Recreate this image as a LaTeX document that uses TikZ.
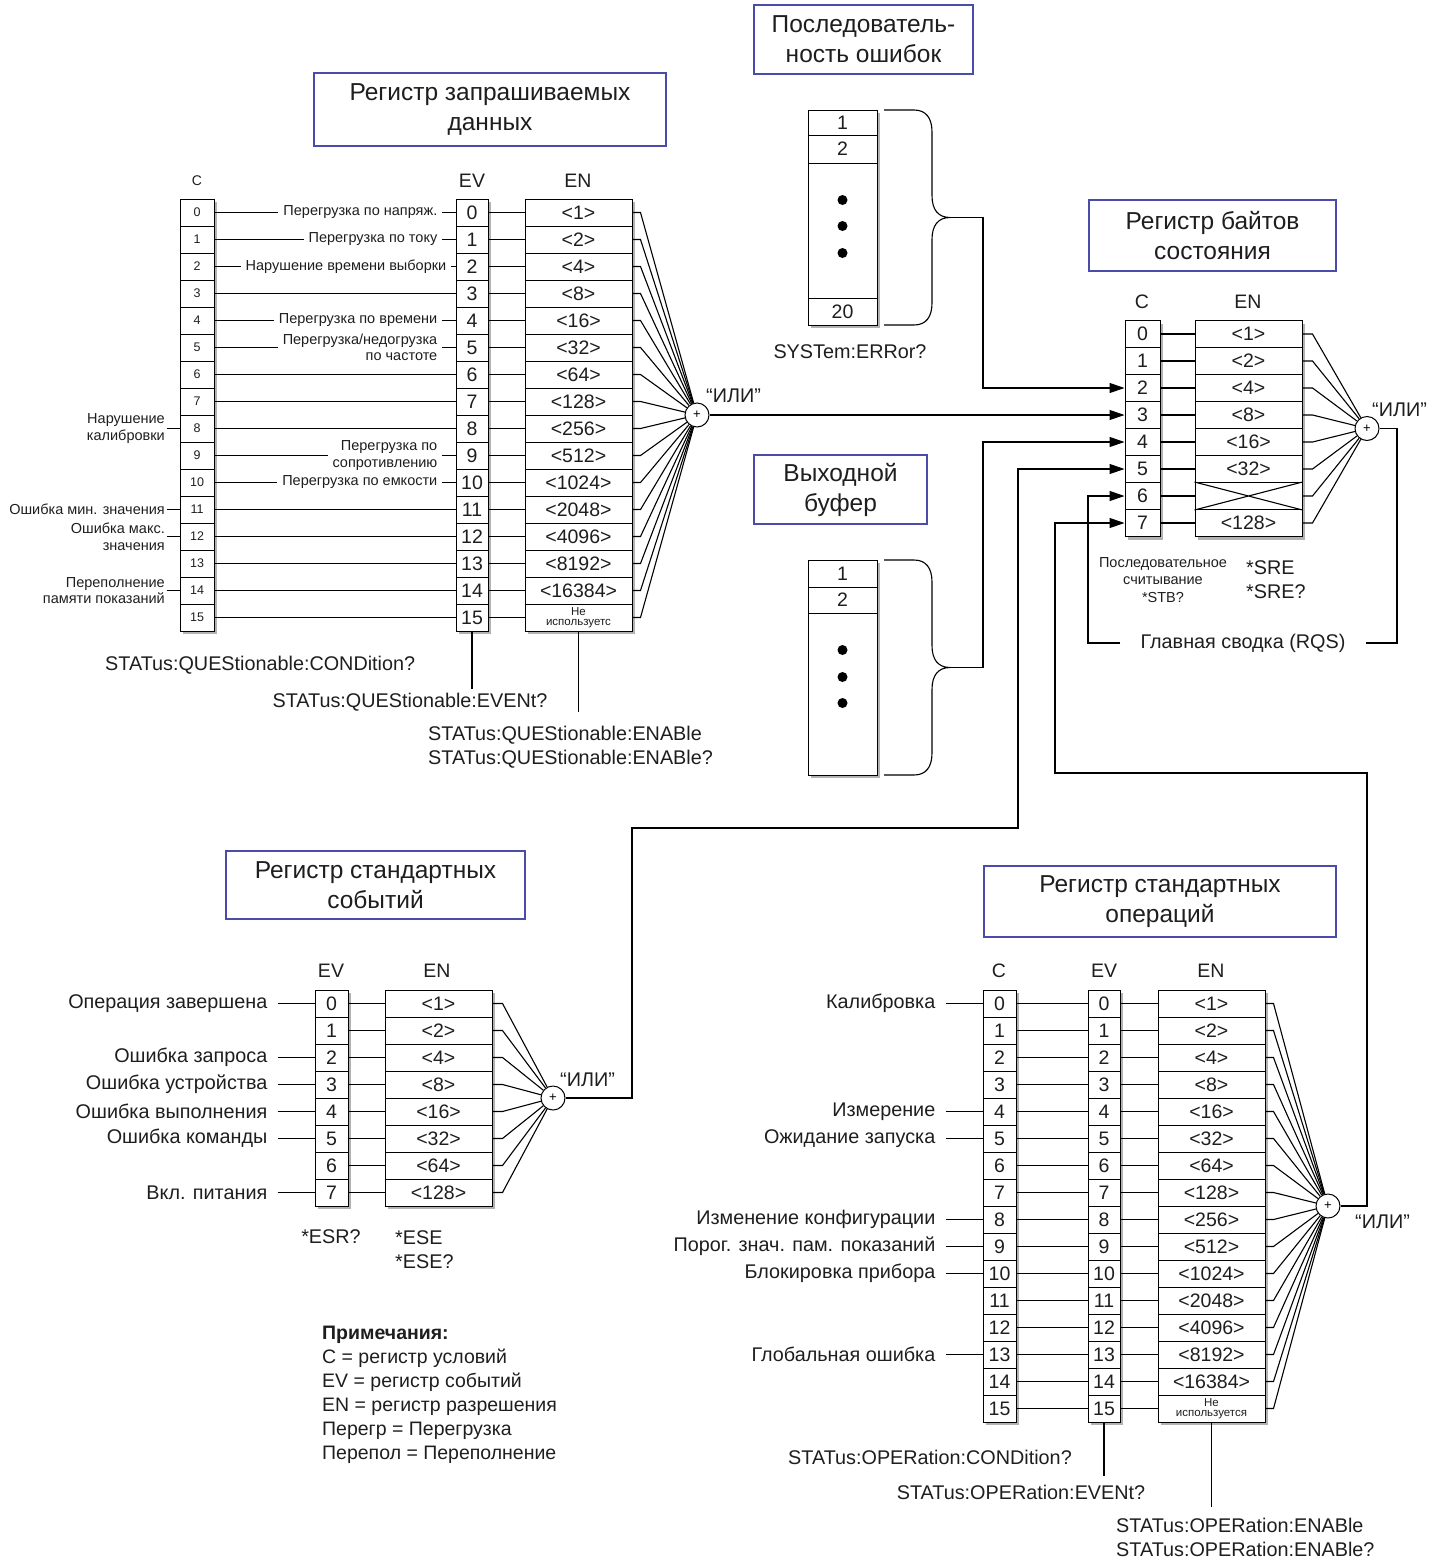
\documentclass[tikz,border=0pt]{standalone}
\usepackage{fontspec}
\setmainfont{Liberation Sans}
\usetikzlibrary{arrows.meta}
\definecolor{tbox}{HTML}{4B4BA8}
\definecolor{txt}{HTML}{1E1E1E}
\newcommand\fsz[2]{\fontsize{#1}{#2}\selectfont}
\newcommand\regcol[7]{%
  \fill[shadowc] ({#2+3},{#4+3}) rectangle ({#2+#3+3},{#4+27*#5+3});
  \foreach \lbl [count=\i from 0] in {#7} {%
    \node[cell,font=#6,minimum width=#3] (#1\i) at ({#2+#3/2},{#4+13.5+27*\i}) {\lbl};
  }%
}
\newcommand\qbrace[3]{%
  \draw[wire] (884,#1) -- (914,#1) .. controls (926,#1) and (932,{#1+8}) .. (932,{#1+22})
    -- (932,{(#1+#2)/2-22}) .. controls (932,{(#1+#2)/2-8}) and (938,{(#1+#2)/2}) .. (950,{(#1+#2)/2})
    .. controls (938,{(#1+#2)/2}) and (932,{(#1+#2)/2+8}) .. (932,{(#1+#2)/2+22})
    -- (932,{#2-22}) .. controls (932,{#2-8}) and (926,#2) .. (914,#2) -- (884,#2);
  \coordinate (#3) at (950,{(#1+#2)/2});%
}
\begin{document}
\begin{tikzpicture}[x=1pt,y=-1pt,
  wire/.style={line width=1.1pt, draw=black},
  arr/.style={wire, -{Triangle[length=15pt,width=10pt]}},
  cell/.style={draw, line width=1pt, fill=white, minimum height=27pt, inner sep=0pt, text=txt},
  shadowc/.style={fill=gray!60},
  title/.style={draw=tbox, line width=1.5pt, fill=white, align=center, font=\fsz{24.5}{30}, text=txt, inner sep=0pt},
  txtn/.style={font=\fsz{19.8}{24}, text=txt, inner sep=0pt},
  small/.style={font=\fsz{14.5}{16.5}, text=txt, inner sep=1.5pt, align=right},
  orc/.style={circle, draw, line width=1pt, fill=white, minimum size=24pt, inner sep=0pt, font=\fsz{13}{13}},
  hdr/.style={font=\fsz{19.5}{19.5}, text=txt, inner sep=0pt}]
\useasboundingbox (0,0) rectangle (1437,1559);

% ---------------- Questionable data register
\node[title, minimum width=352pt, minimum height=73pt] (qtitle) at (490,109.5) {Регистр запрашиваемых\\данных};
\node[hdr, font=\fsz{14}{14}] (qhC) at (197,181) {C};
\node[hdr] (qhEV) at (472,181) {EV};
\node[hdr] (qhEN) at (578,181) {EN};
\regcol{qC}{180}{34}{199}{16}{\fsz{12.5}{12.5}}{0,...,15}
\regcol{qEV}{456}{32}{199}{16}{\fsz{19.5}{19.5}}{0,...,15}
\regcol{qEN}{525}{107}{199}{16}{\fsz{19.5}{19.5}}{<1>,<2>,<4>,<8>,<16>,<32>,<64>,<128>,<256>,<512>,<1024>,<2048>,<4096>,<8192>,<16384>,{}}
\node[font=\fsz{11.5}{10.5}, align=center, inner sep=0pt, text=txt] (qEN15t) at (qEN15) {Не\\используетс};
\node[orc] (qor) at (697,415) {+};
\node[txtn, anchor=west] (qorl) at (706,396) {“ИЛИ”};
\foreach \i in {0,...,15} {
  \draw[wire] (qC\i.east) -- (qEV\i.west);
  \draw[wire] (qEV\i.east) -- (qEN\i.west);
  \draw[wire] (qEN\i.east) -- ++(8,0) -- (qor);
}
\node[small, anchor=east, fill=white, inner xsep=5pt] (qm0) at ([xshift=-13pt]qEV0.west) {Перегрузка по напряж.};
\node[small, anchor=east, fill=white, inner xsep=5pt] (qm1) at ([xshift=-13pt]qEV1.west) {Перегрузка по току};
\node[small, anchor=east, fill=white, inner xsep=5pt] (qm2) at ([xshift=-4pt]qEV2.west) {Нарушение времени выборки};
\node[small, anchor=east, fill=white, inner xsep=5pt] (qm4) at ([xshift=-13pt]qEV4.west) {Перегрузка по времени};
\node[small, anchor=east, fill=white, inner xsep=5pt] (qm5) at ([xshift=-13pt]qEV5.west) {Перегрузка/недогрузка\\по частоте};
\node[small, anchor=east, fill=white, inner xsep=5pt] (qm9) at ([xshift=-13pt]qEV9.west) {Перегрузка по\\сопротивлению};
\node[small, anchor=east, fill=white, inner xsep=5pt] (qm10) at ([xshift=-13pt]qEV10.west) {Перегрузка по емкости};
\node[small, anchor=east] (ql8) at ([xshift=-13pt]qC8.west) {Нарушение\\калибровки};
\draw[wire] (ql8.east) -- (qC8.west);
\node[small, anchor=east] (ql11) at ([xshift=-13pt]qC11.west) {Ошибка мин. значения};
\draw[wire] (ql11.east) -- (qC11.west);
\node[small, anchor=east] (ql12) at ([xshift=-13pt]qC12.west) {Ошибка макс.\\значения};
\draw[wire] (ql12.east) -- (qC12.west);
\node[small, anchor=east] (ql14) at ([xshift=-13pt]qC14.west) {Переполнение\\памяти показаний};
\draw[wire] (ql14.east) -- (qC14.west);
\node[txtn, anchor=west] (qcond) at (105,665) {STATus:QUEStionable:CONDition?};
\node[txtn] (qevt) at (410,702) {STATus:QUEStionable:EVENt?};
\coordinate (qevtend) at (472,689);
\draw[wire] (qEV15.south) -- (qevtend);
\node[txtn, anchor=west, align=left] (qena) at (428,747) {STATus:QUEStionable:ENABle\\STATus:QUEStionable:ENABle?};
\coordinate (qenaend) at (578.5,712);
\draw[wire] (qEN15.south) -- (qenaend);

% ---------------- Error queue
\node[title, minimum width=219pt, minimum height=69pt] (eqtitle) at (863.5,39.5) {Последователь-\\ность ошибок};
\fill[shadowc] (811,113) rectangle (880,328);
\node[cell, minimum width=69pt, minimum height=25pt, font=\fsz{19.5}{19.5}] (eq1) at (842.5,122.5) {1};
\node[cell, minimum width=69pt, minimum height=28pt, font=\fsz{19.5}{19.5}] (eq2) at (842.5,149) {2};
\node[cell, minimum width=69pt, minimum height=135pt] (eqm) at (842.5,230.5) {};
\node[cell, minimum width=69pt, minimum height=27pt, font=\fsz{19.5}{19.5}] (eq20) at (842.5,311.5) {20};
\fill (842.5,200) circle (5);
\fill (842.5,226) circle (5);
\fill (842.5,253) circle (5);
\qbrace{110}{325}{eqtip}
\node[txtn] (eqcmd) at (850,352) {SYSTem:ERRor?};

% ---------------- Output buffer
\node[title, minimum width=173pt, minimum height=69pt] (obtitle) at (840.5,489.5) {Выходной\\буфер};
\fill[shadowc] (811,563) rectangle (880,778);
\node[cell, minimum width=69pt, minimum height=27pt, font=\fsz{19.5}{19.5}] (ob1) at (842.5,573.5) {1};
\node[cell, minimum width=69pt, minimum height=26pt, font=\fsz{19.5}{19.5}] (ob2) at (842.5,600) {2};
\node[cell, minimum width=69pt, minimum height=162pt] (obm) at (842.5,694) {};
\fill (842.5,650) circle (5);
\fill (842.5,677) circle (5);
\fill (842.5,703) circle (5);
\qbrace{560}{775}{obtip}

% ---------------- Status byte register
\node[title, minimum width=247pt, minimum height=71pt] (sbtitle) at (1212.5,235.5) {Регистр байтов\\состояния};
\node[hdr] (sbhC) at (1142,302) {C};
\node[hdr] (sbhEN) at (1248,302) {EN};
\regcol{sbC}{1125}{35}{320.5}{8}{\fsz{19.5}{19.5}}{0,...,7}
\regcol{sbEN}{1195}{107}{320.5}{8}{\fsz{19.5}{19.5}}{<1>,<2>,<4>,<8>,<16>,<32>,{},<128>}
\draw[wire] (sbEN6.north west) -- (sbEN6.south east) (sbEN6.south west) -- (sbEN6.north east);
\node[orc] (sbor) at (1367,428.5) {+};
\node[txtn, anchor=west] (sborl) at (1372,410) {“ИЛИ”};
\foreach \i in {0,...,7} {
  \draw[wire] (sbC\i.east) -- (sbEN\i.west);
  \draw[wire] (sbEN\i.east) -- ++(10,0) -- (sbor);
}
\node[small, align=center, font=\fsz{14.5}{17.5}] (sbstb) at (1163,580) {Последовательное\\считывание\\*STB?};
\node[txtn, anchor=west, align=left] (sbsre) at (1246,580) {*SRE\\*SRE?};
\node[txtn, inner xsep=20pt, inner ysep=2pt] (rqs) at (1243,643) {Главная сводка (RQS)};
\draw[wire] (sbor) -- (1397,428.5) |- (rqs);
\draw[arr] (rqs.west) -- (1088,643) |- (sbC6.west);

% ---------------- Inputs to status byte
\draw[arr] (eqtip) -- ++(33,0) |- (sbC2.west);
\draw[arr] (qor) -- (sbC3.west);
\draw[arr] (obtip) -- ++(33,0) |- (sbC4.west);

% ---------------- Standard event register
\node[title, minimum width=299pt, minimum height=68pt] (setitle) at (375.5,885) {Регистр стандартных\\событий};
\node[hdr] (sehEV) at (331,971) {EV};
\node[hdr] (sehEN) at (437,971) {EN};
\regcol{seEV}{315}{33}{990}{8}{\fsz{19.5}{19.5}}{0,...,7}
\regcol{seEN}{385}{107}{990}{8}{\fsz{19.5}{19.5}}{<1>,<2>,<4>,<8>,<16>,<32>,<64>,<128>}
\node[orc] (seor) at (553,1098) {+};
\node[txtn, anchor=west] (seorl) at (560,1080) {“ИЛИ”};
\foreach \i in {0,...,7} {
  \draw[wire] (seEV\i.east) -- (seEN\i.west);
  \draw[wire] (seEN\i.east) -- ++(10,0) -- (seor);
}
\foreach \i/\lbl in {0/Операция завершена, 2/Ошибка запроса, 3/Ошибка устройства, 4/Ошибка выполнения, 5/Ошибка команды, 7/Вкл. питания} {
  \node[txtn, anchor=east] (seL\i) at ([xshift=-47pt]seEV\i.west) {\lbl};
  \draw[wire] ([xshift=10pt]seL\i.east) -- (seEV\i.west);
}
\node[txtn] (seesr) at (331,1237) {*ESR?};
\node[txtn, anchor=west, align=left] (seese) at (395,1249.5) {*ESE\\*ESE?};
\draw[arr] (seor) -- (632,1098) |- (1018,828) |- (sbC5.west);

% ---------------- Notes
\node[txtn, anchor=north west, align=left, font=\fsz{19.5}{24}] (notes) at (322,1326) {\textbf{Примечания:}\\C = регистр условий\\EV = регистр событий\\EN = регистр разрешения\\Перегр = Перегрузка\\Перепол = Переполнение};

% ---------------- Standard operation register
\node[title, minimum width=352pt, minimum height=71pt] (optitle) at (1160,901.5) {Регистр стандартных\\операций};
\node[hdr] (ophC) at (999,971) {C};
\node[hdr] (ophEV) at (1104,971) {EV};
\node[hdr] (ophEN) at (1211,971) {EN};
\regcol{opC}{983}{33}{990}{16}{\fsz{19.5}{19.5}}{0,...,15}
\regcol{opEV}{1088}{32}{990}{16}{\fsz{19.5}{19.5}}{0,...,15}
\regcol{opEN}{1158}{107}{990}{16}{\fsz{19.5}{19.5}}{<1>,<2>,<4>,<8>,<16>,<32>,<64>,<128>,<256>,<512>,<1024>,<2048>,<4096>,<8192>,<16384>,{}}
\node[font=\fsz{11.5}{10.5}, align=center, inner sep=0pt, text=txt] (opEN15t) at (opEN15) {Не\\используется};
\node[orc] (opor) at (1328,1206) {+};
\node[txtn, anchor=west] (oporl) at (1355,1222) {“ИЛИ”};
\foreach \i in {0,...,15} {
  \draw[wire] (opC\i.east) -- (opEV\i.west);
  \draw[wire] (opEV\i.east) -- (opEN\i.west);
  \draw[wire] (opEN\i.east) -- ++(8,0) -- (opor);
}
\foreach \i/\lbl in {0/Калибровка, 4/Измерение, 5/Ожидание запуска, 8/Изменение конфигурации, 9/Порог. знач. пам. показаний, 10/Блокировка прибора, 13/Глобальная ошибка} {
  \node[txtn, anchor=east] (opL\i) at ([xshift=-47pt]opC\i.west) {\lbl};
  \draw[wire] ([xshift=10pt]opL\i.east) -- (opC\i.west);
}
\node[txtn] (opcond) at (930,1457) {STATus:OPERation:CONDition?};
\node[txtn] (opevt) at (1021,1492) {STATus:OPERation:EVENt?};
\coordinate (opevtend) at (1104,1476);
\draw[wire] (opEV15.south) -- (opevtend);
\node[txtn, anchor=west, align=left] (opena) at (1116,1537.5) {STATus:OPERation:ENABle\\STATus:OPERation:ENABle?};
\coordinate (openaend) at (1211.5,1507);
\draw[wire] (opEN15.south) -- (openaend);
\draw[arr] (opor) -- (1367,1206) |- (1055,773) |- (sbC7.west);
\end{tikzpicture}
\end{document}
